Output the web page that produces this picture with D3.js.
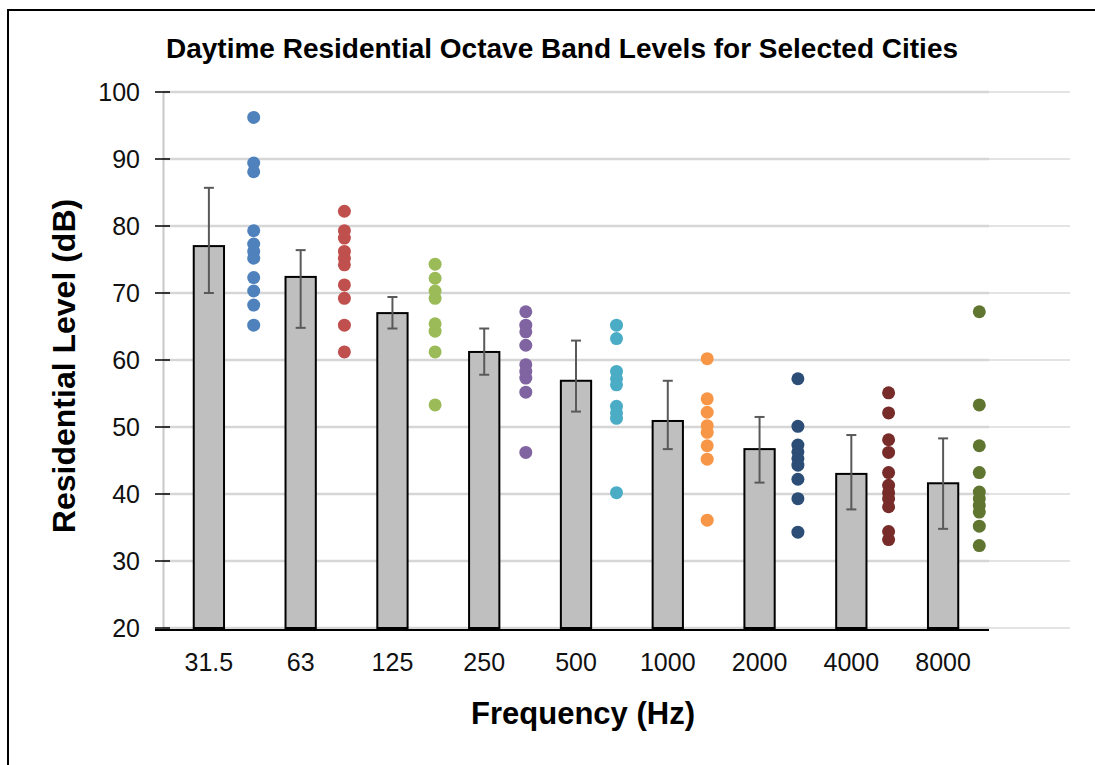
<!DOCTYPE html>
<html>
<head>
<meta charset="utf-8">
<script src="https://cdn.jsdelivr.net/npm/d3@7"></script>
<style>
  html, body { margin: 0; padding: 0; background: #fff; }
  svg { display: block; font-family: "Liberation Sans", Arial, sans-serif; }
</style>
</head>
<body>
<svg id="chart" width="1095" height="765"></svg>
<script>
// ---- data ----
const categories = ["31.5", "63", "125", "250", "500", "1000", "2000", "4000", "8000"];
const meanLevels = [77.0, 72.4, 67.0, 61.2, 56.9, 50.9, 46.7, 43.0, 41.6];
const errUpper = [85.7, 76.4, 69.4, 64.7, 62.9, 56.9, 51.5, 48.8, 48.3];
const errLower = [70.0, 64.8, 64.7, 57.8, 52.3, 46.7, 41.7, 37.7, 34.8];
const cityLevels = [
  [96.2, 89.4, 88.1, 79.3, 77.3, 76.2, 75.2, 72.3, 70.3, 68.2, 65.2],
  [82.2, 79.3, 78.2, 76.2, 75.2, 74.2, 71.2, 69.2, 65.2, 61.2],
  [74.3, 72.2, 70.3, 69.2, 65.4, 64.3, 61.2, 53.3],
  [67.2, 65.2, 64.2, 62.2, 59.3, 58.3, 57.3, 55.2, 46.2],
  [65.2, 63.2, 58.3, 57.2, 56.3, 53.1, 52.1, 51.3, 40.2],
  [60.2, 54.2, 52.2, 50.2, 49.2, 47.2, 45.2, 36.1],
  [57.2, 50.1, 47.3, 46.3, 45.3, 44.3, 42.2, 39.3, 34.3],
  [55.1, 52.1, 48.1, 46.2, 43.2, 41.3, 40.2, 39.3, 38.1, 34.4, 33.2],
  [67.2, 53.3, 47.2, 43.2, 40.3, 39.3, 38.3, 37.3, 35.2, 32.3]
];
const dotColors = ["#4F81BD", "#C0504D", "#9BBB59", "#8064A2", "#4BACC6", "#F79646", "#2C4D75", "#772C2A", "#5F7530"];
const yTicks = [20, 30, 40, 50, 60, 70, 80, 90, 100];
const titleText = "Daytime Residential Octave Band Levels for Selected Cities";
const xTitle = "Frequency (Hz)";
const yTitle = "Residential Level (dB)";

(function () {
// ---- layout ----
const svg = d3.select("#chart");
const pLeft = 163, pRight = 989, pRight2 = 1070, pTop = 92, pBottom = 628;

const x = d3.scaleBand().domain(categories).range([pLeft, pRight]).paddingInner(0.67).paddingOuter(0.335);
const xDots = d3.scaleLinear().domain([0, 10]).range([pLeft, pRight2]);
const y = d3.scaleLinear().domain([20, 100]).range([pBottom, pTop]);

// frame
svg.append("path").attr("d", "M8,765 L8,10 L1095,10").attr("fill", "none").attr("stroke", "#000").attr("stroke-width", 2);

// gridlines (secondary, lighter & wider)
svg.append("g").selectAll("line").data(yTicks).join("line")
  .attr("x1", pLeft).attr("x2", pRight2)
  .attr("y1", d => y(d)).attr("y2", d => y(d))
  .attr("stroke", "#e3e3e3").attr("stroke-width", 2);
svg.append("g").selectAll("line").data(yTicks).join("line")
  .attr("x1", pLeft).attr("x2", pRight)
  .attr("y1", d => y(d)).attr("y2", d => y(d))
  .attr("stroke", "#d6d6d6").attr("stroke-width", 2.5);

// y axis
const yAxis = svg.append("g").attr("transform", `translate(${pLeft},0)`)
  .call(d3.axisLeft(y).tickValues(yTicks).tickSize(0).tickPadding(23).tickFormat(d3.format("d")));
yAxis.select(".domain").attr("stroke", "#c8c8c8").attr("stroke-width", 2);
yAxis.selectAll("text").attr("font-size", 25).attr("fill", "#111").attr("font-family", "Liberation Sans, Arial, sans-serif");
// cross tick marks
svg.append("g").selectAll("line").data(yTicks).join("line")
  .attr("x1", pLeft - 8).attr("x2", pLeft + 7)
  .attr("y1", d => y(d)).attr("y2", d => y(d))
  .attr("stroke", "#000").attr("stroke-width", 1.5);

// bars
svg.append("g").selectAll("rect").data(categories).join("rect")
  .attr("x", d => x(d)).attr("width", x.bandwidth())
  .attr("y", (d, i) => y(meanLevels[i]))
  .attr("height", (d, i) => y(20) - y(meanLevels[i]))
  .attr("fill", "#BFBFBF").attr("stroke", "#000").attr("stroke-width", 2);

// error bars
const eb = svg.append("g").attr("stroke", "#595959").attr("stroke-width", 2);
categories.forEach((c, i) => {
  const cx = x(c) + x.bandwidth() / 2;
  eb.append("line").attr("x1", cx).attr("x2", cx).attr("y1", y(errUpper[i])).attr("y2", y(errLower[i]));
  eb.append("line").attr("x1", cx - 5).attr("x2", cx + 5).attr("y1", y(errUpper[i])).attr("y2", y(errUpper[i]));
  eb.append("line").attr("x1", cx - 5).attr("x2", cx + 5).attr("y1", y(errLower[i])).attr("y2", y(errLower[i]));
});

// x axis
const xAxis = svg.append("g").attr("transform", `translate(0,${pBottom + 2})`)
  .call(d3.axisBottom(x).tickSize(0).tickPadding(22));
xAxis.select(".domain").attr("stroke", "#000").attr("stroke-width", 2).attr("d", `M${pLeft - 8},0H${pRight}`);
xAxis.selectAll("text").attr("font-size", 25).attr("fill", "#111").attr("dy", null)
  .attr("y", 41).attr("font-family", "Liberation Sans, Arial, sans-serif");

// dots
const dg = svg.append("g");
cityLevels.forEach((vals, i) => {
  dg.append("g").selectAll("circle").data(vals).join("circle")
    .attr("cx", xDots(i + 1)).attr("cy", d => y(d)).attr("r", 6.5)
    .attr("fill", dotColors[i]);
});

// titles
svg.append("text").attr("x", 562).attr("y", 58).attr("text-anchor", "middle")
  .attr("font-size", 28).attr("font-weight", "bold").attr("fill", "#000").text(titleText);
svg.append("text").attr("x", 583).attr("y", 724).attr("text-anchor", "middle")
  .attr("font-size", 31).attr("font-weight", "bold").attr("fill", "#000").text(xTitle);
svg.append("text").attr("transform", "translate(75,366) rotate(-90)").attr("text-anchor", "middle")
  .attr("font-size", 32).attr("font-weight", "bold").attr("fill", "#000").text(yTitle);
})();
</script>
</body>
</html>
